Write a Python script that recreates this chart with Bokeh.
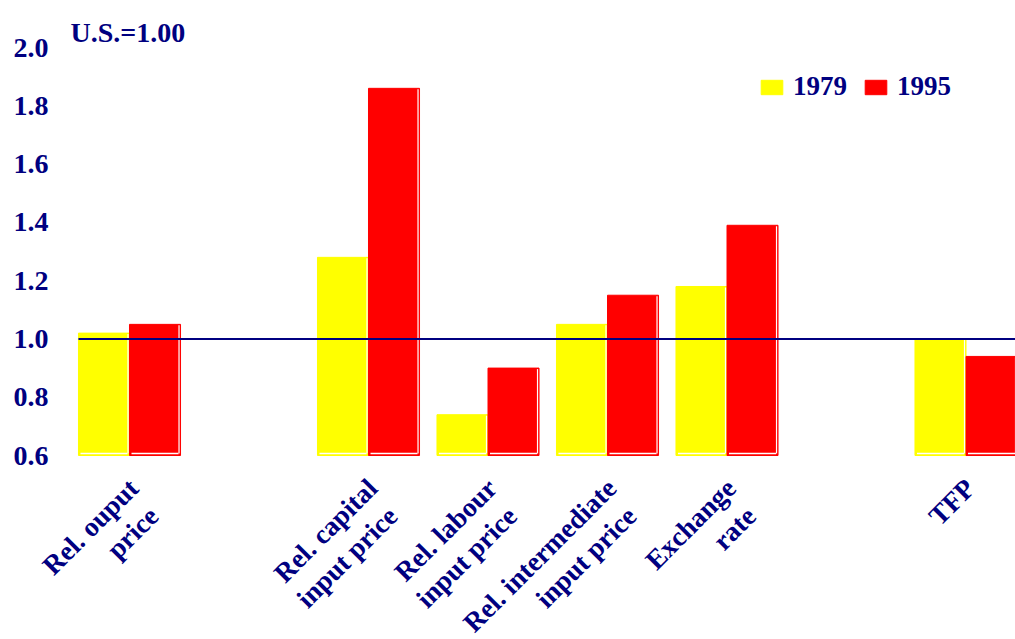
from math import pi

from bokeh.core.properties import value
from bokeh.embed import file_html
from bokeh.models import ColumnDataSource, FixedTicker, Label, LabelSet
from bokeh.plotting import figure
from bokeh.resources import INLINE
from bokeh.transform import dodge

# ---- data ----
categories = [
    "Rel. ouput\nprice",
    "Rel. capital\ninput price",
    "Rel. labour\ninput price",
    "Rel. intermediate\ninput price",
    "Exchange\nrate",
    "TFP",
]
slots = [0, 2, 3, 4, 5, 7]
values_1979 = [1.02, 1.28, 0.74, 1.05, 1.18, 1.00]
values_1995 = [1.05, 1.86, 0.90, 1.15, 1.39, 0.94]
series_names = ["1979", "1995"]
y_ticks = [0.6, 0.8, 1.0, 1.2, 1.4, 1.6, 1.8, 2.0]
y_tick_labels = ["0.6", "0.8", "1.0", "1.2", "1.4", "1.6", "1.8", "2.0"]
reference_value = 1.0
base_value = 0.6
unit_note = "U.S.=1.00"

# ---- style ----
NAVY = "#000080"
YELLOW = "#FFFF00"
RED = "#FF0000"
FONT = "Liberation Serif"
FSIZE = "28px"
CAT_FSIZE = "27.5px"
LEG_FSIZE = "27px"
BAR_W = 0.427
X_END = 7.4142
PX_X = 1 / 119.5   # one screen pixel in x data units
PX_Y = 1 / 291.4   # one screen pixel in y data units

line1 = [c.split("\n")[0] for c in categories]
line2 = [c.split("\n")[1] if "\n" in c else "" for c in categories]

src = ColumnDataSource(dict(
    slot=slots,
    l1=line1,
    l2=line2,
    v1979=values_1979,
    v1995=values_1995,
    base=[base_value] * len(slots),
))

p = figure(
    width=1015, height=639,
    x_range=(-0.9958, X_END), y_range=(-0.0314, 2.1614),
    output_backend="svg", toolbar_location=None,
    min_border_left=10, min_border_right=0, min_border_top=0, min_border_bottom=0,
    x_axis_location=None,
)
p.outline_line_color = None
p.xgrid.visible = False
p.ygrid.visible = False
p.background_fill_color = "white"
p.border_fill_color = "white"

p.vbar(x=dodge("slot", -BAR_W / 2), top="v1979", bottom="base", width=BAR_W,
       source=src, fill_color=YELLOW, line_color=YELLOW, legend_label=series_names[0])
p.vbar(x=dodge("slot", BAR_W / 2), top="v1995", bottom="base", width=BAR_W,
       source=src, fill_color=RED, line_color=RED, legend_label=series_names[1])

# thin white highlight inside each bar (bottom and right edge), as in the original
for shift, vals in ((-BAR_W, values_1979), (0.0, values_1995)):
    lefts = [s + shift for s in slots]
    rights = [s + shift + BAR_W for s in slots]
    p.segment(x0=[l + 2 * PX_X for l in lefts], x1=[r - 2 * PX_X for r in rights],
              y0=[base_value + 2 * PX_Y] * len(slots), y1=[base_value + 2 * PX_Y] * len(slots),
              line_color="white", line_width=1.5)
    p.segment(x0=[r - 1.5 * PX_X for r in rights], x1=[r - 1.5 * PX_X for r in rights],
              y0=[base_value + 2 * PX_Y] * len(slots), y1=[v - 1 * PX_Y for v in vals],
              line_color="white", line_width=1.2)

# reference line at U.S. = 1.00, from the first bar's left edge to the right edge
p.segment(x0=[slots[0] - BAR_W], x1=[X_END], y0=[reference_value], y1=[reference_value],
          line_color=NAVY, line_width=2)

# y axis (labels pulled into the free space left of the bars)
ay = p.yaxis[0]
ay.ticker = FixedTicker(ticks=y_ticks)
ay.major_label_overrides = {t: l for t, l in zip(y_ticks, y_tick_labels)}
ay.axis_line_color = None
ay.major_tick_line_color = None
ay.minor_tick_line_color = None
ay.major_tick_out = 0
ay.major_tick_in = 0
ay.major_label_standoff = -38
ay.major_label_text_font = FONT
ay.major_label_text_font_style = "bold"
ay.major_label_text_font_size = FSIZE
ay.major_label_text_color = NAVY

# rotated category labels under the bars (two right-aligned lines)
common = dict(
    x="slot", y="base", source=src, angle=pi / 4,
    text_align="right", text_baseline="top",
    text_font=value(FONT), text_font_style="bold", text_font_size=CAT_FSIZE,
    text_color=NAVY,
)
p.add_layout(LabelSet(text="l1", x_offset=-7, y_offset=-17, **common))
p.add_layout(LabelSet(text="l2", x_offset=13, y_offset=-45, **common))

p.add_layout(Label(
    x=60, y=607, x_units="screen", y_units="screen", text=unit_note,
    text_baseline="alphabetic", text_align="left",
    text_font=FONT, text_font_style="bold", text_font_size=FSIZE, text_color=NAVY,
))

lg = p.legend[0]
lg.location = (748, 537)
lg.orientation = "horizontal"
lg.border_line_color = None
lg.background_fill_alpha = 0
lg.padding = 0
lg.margin = 0
lg.spacing = 15
lg.glyph_width = 27
lg.glyph_height = 18
lg.label_standoff = 8
lg.label_text_font = FONT
lg.label_text_font_style = "bold"
lg.label_text_font_size = LEG_FSIZE
lg.label_text_color = NAVY

open("out.html", "w").write(file_html(p, INLINE))
